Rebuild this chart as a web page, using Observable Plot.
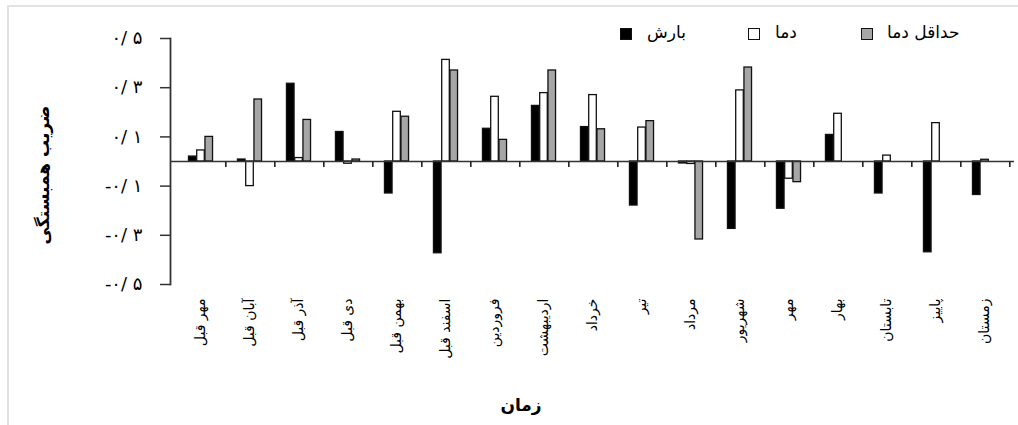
<!DOCTYPE html>
<html><head><meta charset="utf-8">
<script src="https://cdn.jsdelivr.net/npm/d3@7"></script>
<script src="https://cdn.jsdelivr.net/npm/@observablehq/plot@0.6"></script>
<style>
body{margin:0;background:#fff;font-family:"DejaVu Sans",sans-serif;}
#wrap{position:relative;width:1018px;height:425px;overflow:hidden;background:#fff;}
.bTop{position:absolute;left:7px;top:5px;width:1011px;height:2px;background:#e2e2e2;}
.bLeft{position:absolute;left:7px;top:5px;width:2px;height:420px;background:#e2e2e2;}
.lg{position:absolute;top:24px;font-size:17px;line-height:17px;color:#000;white-space:nowrap;}
.sw{position:absolute;top:28px;width:10px;height:10px;border:1.5px solid #111;}
.ttl{position:absolute;font-weight:bold;font-size:17px;white-space:nowrap;transform:translate(-50%,-50%);}
#ytitle{transform:translate(-50%,-50%) rotate(-90deg);}
</style>
</head><body>
<div id="wrap">
  <div class="bTop"></div><div class="bLeft"></div>
  <div id="chart"></div>
  <div class="sw" style="left:620px;background:#000"></div>
  <div class="lg" style="left:647px">بارش</div>
  <div class="sw" style="left:748px;background:#fff"></div>
  <div class="lg" style="left:775px">دما</div>
  <div class="sw" style="left:861px;background:#a6a6a6"></div>
  <div class="lg" style="left:887px">حداقل دما</div>
  <div class="ttl" id="ytitle" style="left:43px;top:175px">ضریب همبستگی</div>
  <div class="ttl" style="left:521px;top:405px">زمان</div>
</div>
<script>
const months = ["مهر قبل","آبان قبل","آذر قبل","دی قبل","بهمن قبل","اسفند قبل","فروردین","اردیبهشت","خرداد","تیر","مرداد","شهریور","مهر","بهار","تابستان","پاییز","زمستان"];
const series = ["بارش","دما","حداقل دما"];
const precip = [0.020, 0.008, 0.316, 0.120, -0.130, -0.373, 0.133, 0.226, 0.140, -0.179, -0.008, -0.274, -0.192, 0.108, -0.130, -0.369, -0.136];
const temp   = [0.045, -0.100, 0.014, -0.009, 0.202, 0.413, 0.263, 0.278, 0.270, 0.138, -0.010, 0.289, -0.070, 0.194, 0.024, 0.156, 0.007];
const minTemp= [0.100, 0.252, 0.169, 0.008, 0.182, 0.370, 0.088, 0.370, 0.131, 0.164, -0.317, 0.382, -0.084, null, null, null, null];
const yTicks = [0.5, 0.3, 0.1, -0.1, -0.3, -0.5];
const yTickLabels = ["۰/ ۵","۰/ ۳","۰/ ۱","-۰/ ۱","-۰/ ۳","-۰/ ۵"];
const fills = ["#000000","#ffffff","#a6a6a6"];

const values = [precip, temp, minTemp];
const W = 1018, H = 425, ML = 170, MR = 4, MT = 38, MB = 141;
const bw = (W - ML - MR) / months.length;
const barW = bw * 0.166;
const g0 = (bw - 3 * barW) / 2;
const yDomain = [-0.5, 0.5];
const plotH = H - MT - MB;
const zeroFromBottom = plotH * (0 - yDomain[0]) / (yDomain[1] - yDomain[0]);

const barMarks = series.map((s, k) => {
  const rows = months.map((m, i) => ({month: m, value: values[k][i]})).filter(d => d.value != null);
  return Plot.barY(rows, {
    x: "month", y: "value",
    fill: fills[k], stroke: "#111", strokeWidth: 1.3,
    insetLeft: g0 + k * barW, insetRight: bw - g0 - (k + 1) * barW
  });
});

const chart = Plot.plot({
  width: W, height: H,
  marginLeft: ML, marginRight: MR, marginTop: MT, marginBottom: MB,
  style: {fontFamily: "DejaVu Sans, sans-serif", background: "transparent", color: "#000"},
  x: {type: "band", domain: months, paddingInner: 0, paddingOuter: 0},
  y: {domain: yDomain},
  marks: [
    ...barMarks,
    Plot.ruleY([0], {stroke: "#333", strokeWidth: 1.5}),
    Plot.axisX({anchor: "bottom", tickSize: 6, text: null, label: null, dx: bw / 2, dy: -zeroFromBottom, stroke: "#222", strokeWidth: 1.6}),
    Plot.frame({anchor: "left", stroke: "#333", strokeWidth: 1.8}),
    Plot.axisY({
      ticks: yTicks,
      tickFormat: d => yTickLabels[yTicks.findIndex(t => Math.abs(t - d) < 1e-9)],
      tickSize: 10, tickPadding: 18, fontSize: 18, fontWeight: 500, label: null, stroke: "#333", strokeWidth: 1.5
    }),
    Plot.axisX({tickRotate: -90, tickSize: 0, tickPadding: 14, fontSize: 14, label: null})
  ]
});
document.getElementById("chart").appendChild(chart);
</script>
</body></html>
